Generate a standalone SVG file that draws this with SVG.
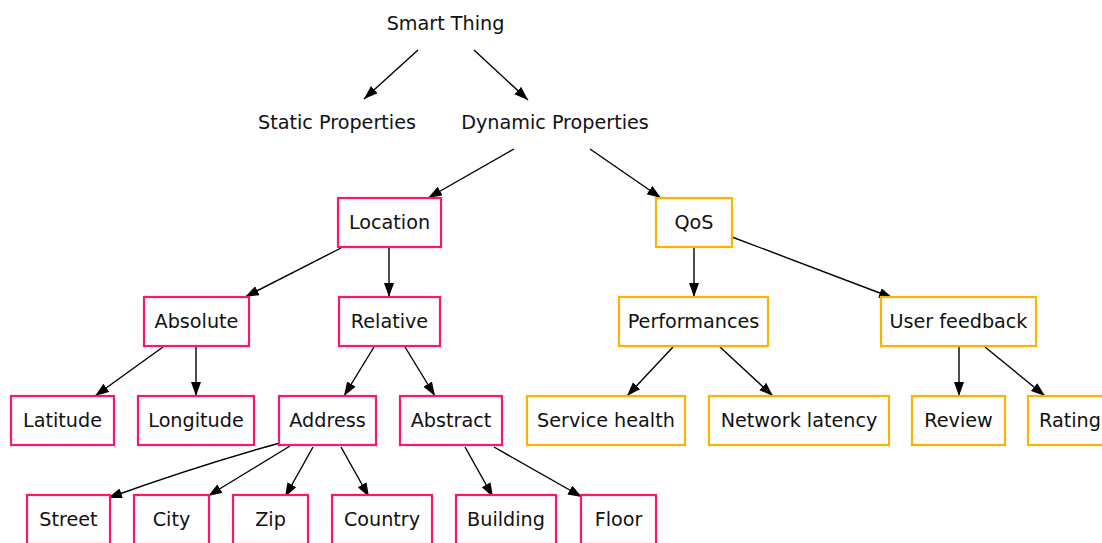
<svg xmlns="http://www.w3.org/2000/svg" width="1102" height="543" viewBox="0 0 1102 543">
<style>
text{font-family:"DejaVu Sans",sans-serif;font-size:19.2px;fill:#111;text-anchor:middle}
.p{fill:#fff;stroke:#ff1470;stroke-width:2.2}
.o{fill:#fff;stroke:#ffb300;stroke-width:2.2}
.e{fill:none;stroke:#000;stroke-width:1.4;marker-end:url(#ah)}
</style>
<defs>
<marker id="ah" markerUnits="userSpaceOnUse" markerWidth="15" markerHeight="11" refX="14" refY="5" orient="auto">
<path d="M0,0 L14,5 L0,10 z" fill="#000"/>
</marker>
</defs>
<rect width="1102" height="543" fill="#fff"/>
<g id="connectors">
<line class="e" x1="418" y1="50" x2="364" y2="99"/>
<line class="e" x1="474" y1="50" x2="528" y2="100"/>
<line class="e" x1="514" y1="149" x2="428" y2="198"/>
<line class="e" x1="590" y1="149" x2="661" y2="198"/>
<line class="e" x1="341" y1="248" x2="245" y2="297"/>
<line class="e" x1="389" y1="248" x2="389" y2="297"/>
<line class="e" x1="163" y1="347" x2="95" y2="396"/>
<line class="e" x1="196" y1="347" x2="196" y2="396"/>
<line class="e" x1="374" y1="347" x2="344" y2="396"/>
<line class="e" x1="405" y1="347" x2="435" y2="396"/>
<path class="e" d="M280,443 Q200,465 108,498"/>
<line class="e" x1="290" y1="446" x2="208" y2="496"/>
<line class="e" x1="313" y1="447" x2="285" y2="497"/>
<line class="e" x1="341" y1="447" x2="369" y2="497"/>
<line class="e" x1="465" y1="447" x2="493" y2="497"/>
<line class="e" x1="494" y1="447" x2="582" y2="497"/>
<line class="e" x1="694" y1="248" x2="694" y2="297"/>
<line class="e" x1="732" y1="237" x2="893" y2="298"/>
<line class="e" x1="673" y1="347" x2="627" y2="396"/>
<line class="e" x1="720" y1="347" x2="773" y2="396"/>
<line class="e" x1="959" y1="347" x2="959" y2="396"/>
<line class="e" x1="985" y1="347" x2="1045" y2="396"/>
</g>
<g id="smart-thing"><text x="445.5" y="29.5">Smart Thing</text></g>
<g id="static-properties"><text x="337" y="128.5">Static Properties</text></g>
<g id="dynamic-properties"><text x="555" y="128.5">Dynamic Properties</text></g>
<g id="location"><rect class="p" x="338" y="198" width="103" height="49"/><text x="389.5" y="229">Location</text></g>
<g id="qos"><rect class="o" x="656" y="198" width="76" height="49"/><text x="694" y="229">QoS</text></g>
<g id="absolute"><rect class="p" x="144" y="297" width="105" height="49"/><text x="196.5" y="328">Absolute</text></g>
<g id="relative"><rect class="p" x="339" y="297" width="101" height="49"/><text x="389.5" y="328">Relative</text></g>
<g id="performances"><rect class="o" x="619" y="297" width="149" height="49"/><text x="693.5" y="328">Performances</text></g>
<g id="user-feedback"><rect class="o" x="881" y="297" width="155" height="49"/><text x="958.5" y="328">User feedback</text></g>
<g id="latitude"><rect class="p" x="11" y="396" width="103" height="49"/><text x="62.5" y="427">Latitude</text></g>
<g id="longitude"><rect class="p" x="138" y="396" width="116" height="49"/><text x="196" y="427">Longitude</text></g>
<g id="address"><rect class="p" x="279" y="396" width="97" height="49"/><text x="327.5" y="427">Address</text></g>
<g id="abstract"><rect class="p" x="400" y="396" width="102" height="49"/><text x="451" y="427">Abstract</text></g>
<g id="service-health"><rect class="o" x="527" y="396" width="158" height="49"/><text x="606" y="427">Service health</text></g>
<g id="network-latency"><rect class="o" x="709" y="396" width="180" height="49"/><text x="799" y="427">Network latency</text></g>
<g id="review"><rect class="o" x="912" y="396" width="93" height="49"/><text x="958.5" y="427">Review</text></g>
<g id="rating"><rect class="o" x="1028" y="396" width="84" height="49"/><text x="1070" y="427">Rating</text></g>
<g id="street"><rect class="p" x="27" y="495" width="83" height="49"/><text x="68.5" y="526">Street</text></g>
<g id="city"><rect class="p" x="134" y="495" width="75" height="49"/><text x="171.5" y="526">City</text></g>
<g id="zip"><rect class="p" x="233" y="495" width="75" height="49"/><text x="270.5" y="526">Zip</text></g>
<g id="country"><rect class="p" x="332" y="495" width="100" height="49"/><text x="382" y="526">Country</text></g>
<g id="building"><rect class="p" x="456" y="495" width="100" height="49"/><text x="506" y="526">Building</text></g>
<g id="floor"><rect class="p" x="581" y="495" width="75" height="49"/><text x="618.5" y="526">Floor</text></g>
</svg>
